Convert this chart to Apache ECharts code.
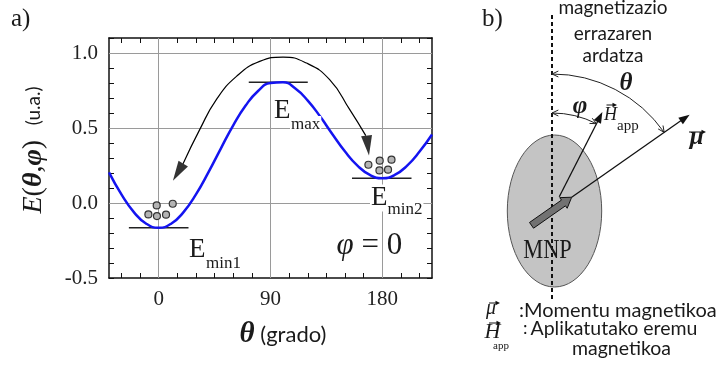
<!DOCTYPE html>
<html>
<head>
<meta charset="utf-8">
<script src="https://cdn.jsdelivr.net/npm/echarts@6/dist/echarts.min.js"></script>
<style>
  html, body { margin: 0; padding: 0; background: #fff; }
  #chart { width: 721px; height: 367px; }
</style>
</head>
<body>
<div id="chart"></div>
<script>
// Energy of a single-domain particle versus moment angle, E(θ, φ = 0), in arbitrary units
const thetaDeg = [-40, -30, -20, -10, 0, 10, 20, 30, 40, 50, 60, 70, 80, 90, 100,
                  110, 120, 130, 140, 150, 160, 170, 180, 190, 200, 210, 220];
const energy   = [0.204, 0.057, -0.061, -0.138, -0.165, -0.138, -0.061, 0.057, 0.204, 0.363,
                  0.518, 0.650, 0.747, 0.800, 0.805, 0.763, 0.683, 0.576, 0.457, 0.343,
                  0.249, 0.187, 0.165, 0.187, 0.249, 0.343, 0.457];

// Energy levels of the two minima and the barrier (short horizontal bars)
const levelEnergy = [-0.165, 0.805, 0.165];
const levelFrom   = [-24, 72.5, 155.6];
const levelTo     = [24, 120, 203.5];

// Particles sitting in the two wells
const particleTheta  = [-1.6, 11.3, -8.3, -1.4, 5.9, 168.8, 177.9, 187.4, 177.7, 184.6];
const particleEnergy = [-0.016, -0.005, -0.076, -0.087, -0.078, 0.255, 0.282, 0.289, 0.217, 0.222];

// Hopping path over the barrier, and its two arrow heads
const hopTheta  = [19.6, 33.0, 46.4, 62.6, 81.3, 100.1, 118.9, 137.6, 153.8, 166.7];
const hopEnergy = [0.262, 0.489, 0.689, 0.844, 0.944, 0.973, 0.933, 0.822, 0.622, 0.449];
const headTheta  = [15.6, 168.3];
const headEnergy = [0.205, 0.383];
const headRotate = [149, 187];

// Axis ticks, labels and reference lines
const xTicks = [-30, -15, 0, 15, 30, 45, 60, 75, 90, 105, 120, 135, 150, 165, 180, 195, 210];
const xLabels = [0, 90, 180];
const xGrid = [0, 90, 180];
const yGrid = [0, 0.5, 1.0];

const SERIF = '"Liberation Serif", "Times New Roman", serif';
const SANS = 'Lato, "Open Sans", sans-serif';
const INK = '#1a1a1a';

const graphics = [];
function text(x, y, str, font, style, el) {
  graphics.push(Object.assign({
    type: 'text', x: x, y: y, z: 50, silent: true,
    style: Object.assign({ text: str, font: font, fill: INK, align: 'left', verticalAlign: 'middle' }, style || {})
  }, el || {}));
}
function seg(x1, y1, x2, y2, w, dash) {
  graphics.push({ type: 'line', z: 40, silent: true,
    shape: { x1: x1, y1: y1, x2: x2, y2: y2 },
    style: { stroke: '#111', lineWidth: w, lineDash: dash || null } });
}
function poly(points, fill, stroke, w, z) {
  graphics.push({ type: 'polygon', z: z || 42, silent: true, shape: { points: points },
    style: { fill: fill, stroke: stroke || null, lineWidth: w || 0 } });
}
// small vector arrow drawn over a symbol
function overArrow(x1, x2, y) {
  seg(x1, y, x2 - 2, y, 1);
  poly([[x2, y], [x2 - 4.5, y - 2.2], [x2 - 4.5, y + 2.2]], '#111');
}

// ---------- panel a) annotations ----------
text(11, 19, 'a)', '25px ' + SERIF);
const bg = { backgroundColor: '#fff', padding: [0, 1] };
text(273, 111, 'E', '27px ' + SERIF, bg);
text(290, 124.5, 'max', '17px ' + SERIF, bg);
text(188, 250, 'E', '27px ' + SERIF, bg);
text(205, 263.7, 'min1', '17px ' + SERIF, bg);
text(370, 198, 'E', '27px ' + SERIF, bg);
text(386.5, 209.4, 'min2', '17px ' + SERIF, bg);
text(336.5, 245.5, '{p|φ}{r| = 0}', '31px ' + SERIF, {
  rich: { p: { font: 'italic 31px ' + SERIF }, r: { font: '31px ' + SERIF } }
});
// axis titles
text(283, 335, '{t|θ} {g|(grado)}', '22px ' + SANS, {
  align: 'center',
  rich: { t: { font: 'italic bold 29px ' + SERIF }, g: { font: '22px ' + SANS } }
});
text(34, 150, '{i|E}{r|(}{b|θ}{r|,}{b|φ}{r|)}{s|   }{u|(u.a.)}', '28px ' + SERIF, {
  align: 'center',
  rich: {
    i: { font: 'italic 28px ' + SERIF },
    b: { font: 'italic bold 28px ' + SERIF },
    r: { font: '28px ' + SERIF },
    s: { font: '19px ' + SANS },
    u: { font: '19px ' + SANS }
  }
}, { rotation: Math.PI / 2 });

// ---------- panel b) nanoparticle sketch ----------
const O = [552, 211];                 // pivot of the moment on the easy axis
const thetaB = 55 * Math.PI / 180;    // moment angle from the easy axis
const phiB = 27 * Math.PI / 180;      // applied-field angle from the easy axis
const dirOf = a => [Math.sin(a), -Math.cos(a)];
const at = (d, r) => [O[0] + d[0] * r, O[1] + d[1] * r];

text(482, 19, 'b)', '25px ' + SERIF);

graphics.push({ type: 'ellipse', z: 20, silent: true,
  shape: { cx: 554.5, cy: 211, rx: 47.2, ry: 76 },
  style: { fill: '#c4c4c4', stroke: '#555', lineWidth: 1 } });
text(547.5, 251, 'MNP', '27px ' + SERIF, { align: 'center' }, { scaleX: 0.83 });

// easy axis
seg(O[0], 15, O[0], 300, 2, [4, 3]);

// thick moment arrow through the pivot
(function () {
  const d = dirOf(thetaB), n = [-d[1], d[0]];
  const P = (s, t) => [O[0] + d[0] * s + n[0] * t, O[1] + d[1] * s + n[1] * t];
  poly([P(-25, 3.5), P(14, 3.5), P(14, 6.5), P(24, 0), P(14, -6.5), P(14, -3.5), P(-25, -3.5)],
       '#727272', '#111', 1, 41);
})();

// thin vectors with filled heads
function vector(a, r0, r1) {
  const d = dirOf(a), n = [-d[1], d[0]];
  const s = at(d, r0), e = at(d, r1 - 6), tip = at(d, r1);
  seg(s[0], s[1], e[0], e[1], 1.3);
  const b = at(d, r1 - 11);
  poly([tip, [b[0] + n[0] * 4, b[1] + n[1] * 4], [b[0] - n[0] * 4, b[1] - n[1] * 4]], '#111');
}
vector(thetaB, 24, 168);
vector(phiB, 16, 111);

// angle arcs with open heads at both ends
function angleArc(a1, r) {
  graphics.push({ type: 'arc', z: 40, silent: true,
    shape: { cx: O[0], cy: O[1], r: r, startAngle: -Math.PI / 2, endAngle: -Math.PI / 2 + a1, clockwise: true },
    style: { stroke: '#222', lineWidth: 1, fill: 'none' } });
  const heads = [[0, -1], [a1, 1]];
  heads.forEach(([a, sgn]) => {
    const tip = at(dirOf(a), r);
    const u = [Math.cos(a) * sgn, Math.sin(a) * sgn];
    const L = 7, beta = 25 * Math.PI / 180;
    const wing = s => {
      const c = Math.cos(s * beta), sn = Math.sin(s * beta);
      const bx = -u[0], by = -u[1];
      return [tip[0] + L * (bx * c - by * sn), tip[1] + L * (bx * sn + by * c)];
    };
    graphics.push({ type: 'polyline', z: 40, silent: true,
      shape: { points: [wing(1), tip, wing(-1)] },
      style: { stroke: '#222', lineWidth: 1, fill: 'none' } });
  });
}
angleArc(thetaB, 137);
angleArc(phiB, 98);

text(626, 83.3, 'θ', 'italic bold 25px ' + SERIF, { align: 'center' });
text(580, 106.5, 'φ', 'italic bold 25px ' + SERIF, { align: 'center' });
text(604, 115.6, 'H', 'italic 18px ' + SERIF);
overArrow(606.5, 617, 105);
text(617, 126, 'app', '15px ' + SERIF);
text(696.7, 137.7, 'μ', 'italic bold 25px ' + SERIF, { align: 'center' });
overArrow(689, 706, 132);

text(613, 8, 'magnetizazio', '19px ' + SANS, { align: 'center' });
text(613, 34.3, 'errazaren', '19px ' + SANS, { align: 'center' });
text(613, 56, 'ardatza', '19px ' + SANS, { align: 'center' });

// legend of the symbols
text(486, 308.8, 'μ', 'italic 20px ' + SERIF);
overArrow(489, 500, 303);
text(519, 310.5, ':Momentu magnetikoa', '20px ' + SANS);
text(484.5, 332.5, 'H', 'italic 22px ' + SERIF);
overArrow(489, 501, 323);
text(493, 346.3, 'app', '11px ' + SERIF);
text(523, 328.5, ':', '18px ' + SANS);
text(614, 329.1, 'Aplikatutako eremu', '19.5px ' + SANS, { align: 'center' });
text(621.5, 348.4, 'magnetikoa', '19.5px ' + SANS, { align: 'center' });

// ---------- chart ----------
const chart = echarts.init(document.getElementById('chart'));
const axisLine = { show: true, onZero: false, lineStyle: { color: '#111', width: 1.5 } };
const tickStyle = { lineStyle: { color: '#111', width: 1 } };

const xBase = {
  type: 'value', min: -40, max: 220, axisLine: axisLine, splitLine: { show: false },
  axisTick: Object.assign({ show: true, inside: true, length: 5, customValues: xTicks }, tickStyle)
};
const yBase = {
  type: 'value', min: -0.5, max: 1.1, interval: 0.1, axisLine: axisLine, splitLine: { show: false },
  axisTick: Object.assign({ show: true, inside: true, length: 5 }, tickStyle)
};

chart.setOption({
  animation: false,
  backgroundColor: '#fff',
  grid: { left: 109, right: 289, top: 38, bottom: 89, containLabel: false },
  xAxis: [
    Object.assign({}, xBase, { position: 'bottom',
      axisLabel: { show: true, customValues: xLabels, margin: 11, color: '#222', fontSize: 21, fontFamily: SERIF } }),
    Object.assign({}, xBase, { position: 'top', axisLabel: { show: false } })
  ],
  yAxis: [
    Object.assign({}, yBase, { position: 'left',
      axisLabel: { show: true, margin: 11, color: '#222', fontSize: 21, fontFamily: SERIF,
        formatter: v => (Math.abs(v * 2 - Math.round(v * 2)) < 1e-6 && v < 1.05) ? v.toFixed(1) : '' } }),
    Object.assign({}, yBase, { position: 'right', axisLabel: { show: false } })
  ],
  graphic: { elements: graphics },
  series: [
    {
      name: 'grid', type: 'line', data: [], silent: true,
      markLine: {
        z: 1, silent: true, symbol: 'none', label: { show: false },
        lineStyle: { color: '#9a9a9a', width: 1, type: 'solid' },
        data: xGrid.map(v => ({ xAxis: v })).concat(yGrid.map(v => ({ yAxis: v })))
      }
    },
    ...levelEnergy.map((e, i) => ({
      name: 'level' + i, type: 'line', z: 3, silent: true, symbol: 'none',
      lineStyle: { color: '#222', width: 1.5 },
      data: [[levelFrom[i], e], [levelTo[i], e]]
    })),
    {
      name: 'E', type: 'line', z: 4, smooth: true, symbol: 'none', silent: true,
      lineStyle: { color: '#1414f0', width: 2.5 },
      data: thetaDeg.map((t, i) => [t, energy[i]])
    },
    {
      name: 'hop', type: 'line', z: 5, smooth: true, symbol: 'none', silent: true,
      lineStyle: { color: '#000', width: 1.2 },
      data: hopTheta.map((t, i) => [t, hopEnergy[i]])
    },
    {
      name: 'hopHeads', type: 'scatter', z: 5, silent: true, symbol: 'triangle', symbolSize: [11, 20],
      itemStyle: { color: '#000' },
      data: headTheta.map((t, i) => ({ value: [t, headEnergy[i]], symbolRotate: headRotate[i] }))
    },
    {
      name: 'particles', type: 'scatter', z: 6, silent: true, symbolSize: 7,
      itemStyle: { color: '#b4b4b4', borderColor: '#333', borderWidth: 1.2, opacity: 1 },
      data: particleTheta.map((t, i) => [t, particleEnergy[i]])
    }
  ]
});
</script>
</body>
</html>
